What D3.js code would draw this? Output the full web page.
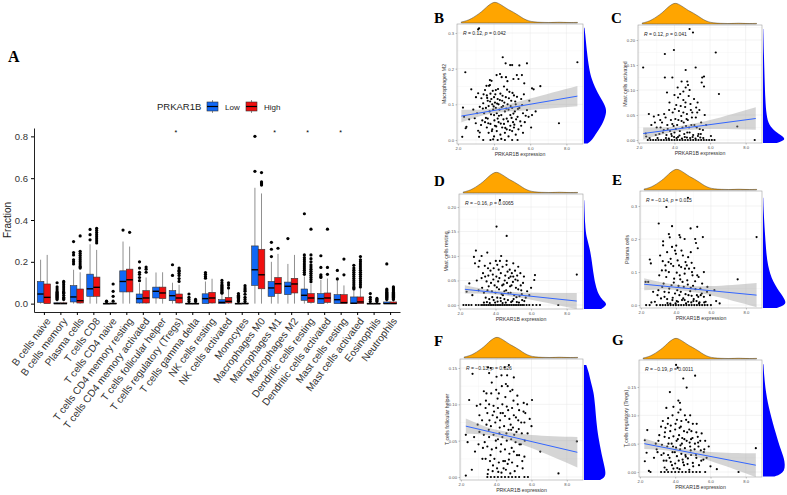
<!DOCTYPE html>
<html>
<head>
<meta charset="utf-8">
<script src="https://cdn.jsdelivr.net/npm/d3@7"></script>
<style>
body{margin:0;background:#fff;}
svg text{font-family:Arial,"Liberation Sans",sans-serif;}
.lab{font-family:"Times New Roman","Liberation Serif",serif;font-weight:bold;font-size:15px;}
</style>
</head>
<body>
<svg width="787" height="495"></svg>
<script>
// ---- panel A: immune cell fractions by PRKAR1B group ----
const cellTypes = ['B cells naive','B cells memory','Plasma cells','T cells CD8','T cells CD4 naive',
  'T cells CD4 memory resting','T cells CD4 memory activated','T cells follicular helper',
  'T cells regulatory (Tregs)','T cells gamma delta','NK cells resting','NK cells activated',
  'Monocytes','Macrophages M0','Macrophages M1','Macrophages M2','Dendritic cells resting',
  'Dendritic cells activated','Mast cells resting','Mast cells activated','Eosinophils','Neutrophils'];

const lowQ1  = [.006,0,.008,.035,0,.056,.003,.027,.014,0,0,0,0,.087,.035,.043,.016,0,0,0,0,0];
const lowMed = [.046,0,.032,.071,0,.106,.024,.059,.038,0,.024,.006,0,.162,.075,.083,.04,.024,.019,.002,0,0];
const lowQ3  = [.106,.004,.086,.141,.002,.157,.046,.079,.062,.002,.047,.019,.002,.276,.106,.103,.07,.048,.043,.032,.002,.008];
const lowHi  = [.21,.01,.162,.284,.005,.297,.098,.149,.1,.005,.106,.045,.005,.554,.2,.19,.13,.114,.114,.065,.005,.015];
const lowOut = [[],[.02,.025,.03,.035,.04,.045,.05,.055,.06,.07,.08,.1],[.19,.2,.21,.233,.244,.297],[.305,.33,.355],
  [.01,.012],[.352],[.11,.125,.14,.15,.17,.2],[],[.135,.186],[.01,.02,.03,.046],[.122,.13,.14,.149],
  [.05,.055,.06,.065,.07,.075,.08,.085,.09,.1,.111],[.01,.015,.019,.025,.03,.035,.04,.048],[.633,.8],
  [.225,.26,.293],[.311],[.14,.15,.16,.17,.18,.19,.2,.21,.22,.233,.43],[.125,.13,.138,.173,.229],
  [.118,.159],[.07,.075,.08,.09,.1,.11,.12,.13,.14,.15,.16,.17,.183],[.01,.02,.03,.048],
  [.02,.025,.03,.035,.04,.045,.05,.055,.06,.065,.07,.19]];

const highQ1  = [0,0,.003,.035,0,.056,.003,.024,.003,0,.003,.003,0,.071,.048,.051,.006,.006,0,0,0,0];
const highMed = [.03,0,.014,.078,0,.114,.027,.051,.027,0,.027,.011,0,.138,.095,.094,.027,.027,.005,.008,0,0];
const highQ3  = [.094,.004,.07,.127,.003,.165,.062,.079,.046,.002,.054,.03,.003,.26,.125,.121,.048,.051,.043,.032,.002,.008];
const highHi  = [.233,.01,.15,.257,.006,.273,.125,.15,.09,.005,.119,.07,.006,.527,.238,.233,.095,.12,.087,.075,.005,.015];
const highOut = [[],[.02,.025,.03,.04,.05,.055,.06,.07,.08,.09,.1,.106],[.17,.175,.18,.19,.2,.21,.22,.23,.24,.25,.324],
  [.29,.3,.31,.32,.33,.34,.35,.36],[.012,.035,.059,.094],[.341],[.15,.165,.175],[],
  [.106,.12,.135,.145,.155,.16,.17],[.01,.015,.02],[],[.075,.089,.1],[.01,.02,.03,.045,.059,.067,.075,.086],
  [.567,.572,.577,.582,.627],[.265],[],[.105,.115,.125,.135,.145,.155,.165,.175,.185,.2,.215,.233,.356],
  [.14,.173,.356],[.138,.213],[.08,.09,.1,.11,.12,.13,.14,.15,.16,.17,.18,.19,.2,.21,.225],[.01,.015,.02,.025],
  [.02,.025,.03,.035,.04,.045,.05,.055,.06,.065,.07,.075,.08]];

const starred = ['T cells regulatory (Tregs)','Macrophages M1','Dendritic cells resting','Mast cells resting'];
const groups = ['Low','High'];
const fractionTicks = [0,.2,.4,.6,.8];

// ---- panels B-G: scatter of cell fraction vs PRKAR1B expression ----
const exprTicks = [2,4,6,8];
const exprDensX = [2.19,2.47,2.74,3.02,3.3,3.58,3.86,4.05,4.23,4.51,4.79,5.07,5.35,5.63,5.91,6.19,6.6,7.0,7.4,7.6,7.8,8.2,8.61];
const exprDensY = [.05,.1,.2,.36,.52,.76,.95,1,.95,.8,.63,.52,.37,.2,.1,.05,.03,.02,.03,.04,.03,.02,.03];

const ptsB = [[3.12,.31],[3.17,.313],[2.41,.19],[4.48,.232],[4.64,.215],[4.89,.21],[5.0,.21],[5.4,.209],[5.82,.215],[8.61,.218],
 [2.74,.142],[3.77,.168],[3.77,.154],[3.86,.166],[4.33,.185],[4.42,.176],[4.14,.182],[4.66,.176],[4.74,.165],[5.07,.171],
 [5.26,.182],[5.35,.171],[5.54,.182],[5.67,.159],[6.1,.145],[6.19,.142],[6.56,.151],[2.28,.091],[2.34,.065],[2.47,.037],
 [2.43,.033],[2.24,.009],[3.12,.131],[3.3,.117],[3.4,.103],[3.21,.093],[3.06,.075],[2.93,.061],[2.99,.047],[3.12,.026],
 [3.21,.021],[3.17,.009],[7.59,.047],[5.82,.084],[5.91,.065],[6.1,.07],
 [3.5,.14],[3.6,.125],[3.65,.11],[3.7,.095],[3.75,.08],[3.8,.13],[3.85,.115],[3.9,.1],[3.95,.085],[4.0,.07],[4.0,.12],
 [4.05,.105],[4.1,.09],[4.1,.14],[4.15,.075],[4.2,.06],[4.2,.115],[4.25,.1],[4.3,.085],[4.35,.13],[4.4,.07],[4.45,.11],
 [4.5,.095],[4.55,.15],[4.6,.08],[4.65,.12],[4.7,.06],[4.75,.1],[4.8,.085],[4.85,.135],[4.9,.07],[4.95,.11],[5.0,.09],
 [5.05,.05],[5.1,.125],[5.15,.08],[5.2,.1],[5.3,.065],[5.4,.09],[5.5,.115],[5.6,.075],[5.7,.05],
 [3.5,.05],[3.6,.035],[3.7,.02],[3.8,.045],[3.9,.03],[4.0,.01],[4.05,.04],[4.15,.025],[4.25,.05],[4.35,.015],[4.45,.035],
 [4.55,.045],[4.6,.02],[4.7,.03],[4.8,.01],[4.9,.04],[5.0,.025],[5.1,.035],[5.2,.015],[5.35,.03],[5.5,.04],[5.6,.02],
 [3.65,.06],[3.35,.055],[3.45,.075],[3.55,.09],[3.4,0],[3.8,0],[4.2,0],[4.6,0],[5.0,0],[5.3,0],[4.4,.003],[3.95,.002],
 [3.55,.062],[3.62,.118],[3.68,.047],[3.72,.152],[3.78,.108],[3.83,.072],[3.88,.025],[3.93,.138],[3.98,.094],[4.02,.055],
 [4.07,.128],[4.12,.038],[4.17,.102],[4.22,.143],[4.27,.068],[4.32,.112],[4.37,.046],[4.42,.092],[4.47,.124],[4.52,.058],
 [4.57,.105],[4.62,.034],[4.67,.088],[4.72,.141],[4.77,.052],[4.82,.117],[4.87,.028],[4.92,.095],[4.97,.062],[5.02,.132],
 [5.07,.074],[5.12,.043],[5.17,.108],[5.22,.058],[5.27,.121],[5.32,.087],[5.45,.052],[5.55,.098],[5.65,.128],[5.75,.068],
 [3.38,.088],[3.28,.042],[3.42,.128],[3.58,.152],[2.85,.085],[2.62,.058],[3.0,.12],[5.95,.11],[6.3,.08],[6.05,.035]];

const ptsC = [[4.85,.222],[5.04,.215],[3.46,.172],[3.97,.18],[6.32,.175],[2.24,.145],[4.63,.14],[5.19,.145],[3.46,.125],[3.88,.125],
 [4.4,.117],[4.72,.117],[4.76,.11],[5.56,.125],[5.66,.127],[4.5,.097],[4.63,.105],[5.53,.115],[5.66,.107],[6.5,.092],
 [4.0,.09],[4.2,.085],[4.5,.08],[4.8,.088],[5.1,.082],[5.3,.075],[4.1,.07],[4.35,.068],[4.6,.066],[4.9,.072],[3.7,.06],
 [3.9,.055],[4.25,.058],[4.7,.052],[5.0,.055],[5.4,.06],[5.7,.05],[3.5,.045],[3.8,.04],[4.05,.042],[4.4,.038],[4.75,.04],
 [5.2,.045],[5.5,.035],[3.3,.035],[3.6,.03],[3.95,.028],[4.15,.03],[4.45,.025],[4.65,.028],[4.95,.03],[5.25,.025],[5.6,.02],
 [3.4,.02],[3.75,.018],[4.0,.015],[4.3,.018],[4.55,.012],[4.85,.015],[5.05,.01],[5.35,.012],[3.55,.01],[3.85,.008],[4.2,.006],
 [4.7,.005],[5.45,.005],[2.56,.052],[2.84,.047],[3.1,.05],[3.2,.04],[2.9,.035],[3.0,.025],[2.7,.03],[2.38,.013],[2.41,.007],
 [3.15,.012],[7.53,.027],[8.51,0],
 [2.5,0],[2.65,0],[2.8,0],[2.95,0],[3.1,0],[3.25,0],[3.4,0],[3.55,0],[3.7,0],[3.85,0],[4.0,0],[4.15,0],[4.3,0],[4.45,0],
 [4.6,0],[4.75,0],[4.9,0],[5.05,0],[5.2,0],[5.35,0],[5.5,0],[5.65,0],[5.8,0],[5.95,0],[6.1,0],[6.25,0],
 [3.52,.004],[3.68,.003],[3.82,.012],[3.98,.006],[4.12,.004],[4.28,.009],[4.42,.003],[4.58,.006],[4.72,.015],[4.88,.004],
 [5.02,.006],[5.18,.003],[5.32,.008],[5.48,.012],[5.62,.004],[3.62,.022],[3.88,.032],[4.08,.022],[4.22,.04],[4.38,.048],
 [4.52,.035],[4.68,.042],[4.82,.025],[4.98,.045],[5.12,.03],[5.28,.055],[5.42,.022],[3.42,.052],[3.72,.075],[4.02,.062],
 [4.32,.092],[4.62,.075],[4.92,.06],[5.22,.065],[3.58,.095],[4.18,.105],[4.85,.1],[3.35,.015],[2.95,.01],[3.05,.004],
 [6.05,.008],[5.78,.03],[3.22,.025],[2.6,.004],[4.5,.055]];

const ptsD = [[4.25,.214],[4.06,.16],[4.63,.141],[2.9,.111],[3.54,.107],[2.79,.098],[3.22,.1],[3.1,.09],[2.85,.085],[3.05,.078],
 [4.25,.09],[4.63,.09],[5.0,.085],[5.28,.078],[6.22,.061],[6.18,.051],[8.57,.062],[2.53,.044],[2.38,.027],[7.53,0],
 [3.4,.08],[3.7,.085],[3.9,.075],[4.1,.082],[4.4,.078],[4.8,.072],[5.1,.07],[5.4,.065],[3.3,.065],[3.6,.06],[3.85,.062],
 [4.05,.058],[4.3,.065],[4.55,.06],[4.75,.055],[5.0,.058],[5.25,.05],[5.55,.045],[3.5,.048],[3.75,.045],[3.95,.04],[4.15,.048],
 [4.45,.042],[4.65,.045],[4.9,.04],[5.15,.035],[5.45,.03],[3.25,.035],[3.55,.03],[3.8,.028],[4.0,.025],[4.2,.032],[4.35,.022],
 [4.6,.03],[4.85,.025],[5.05,.02],[5.35,.018],[5.7,.015],[3.45,.015],[3.65,.012],[3.9,.01],[4.1,.015],[4.3,.008],[4.5,.012],
 [4.7,.01],[4.95,.008],[5.2,.006],[5.5,.01],[3.35,.005],[4.4,.004],[5.9,.02],[6.0,.035],
 [2.2,0],[2.35,0],[2.5,0],[2.65,0],[2.9,0],[3.05,0],[3.2,0],[3.3,0],[3.4,0],[3.5,0],[3.6,0],[3.7,0],[3.8,0],[3.9,0],[4.0,0],
 [4.1,0],[4.2,0],[4.3,0],[4.4,0],[4.5,0],[4.6,0],[4.7,0],[4.8,0],[4.9,0],[5.0,0],[5.1,0],[5.2,0],[5.3,0],[5.4,0],[5.5,0],
 [5.6,0],[5.75,0],[5.9,0],[6.1,0],[6.3,0],[6.5,0],
 [3.52,.006],[3.68,.004],[3.82,.016],[3.98,.005],[4.12,.007],[4.28,.014],[4.42,.02],[4.58,.005],[4.72,.024],[4.88,.006],
 [5.02,.012],[5.18,.016],[5.32,.005],[5.48,.022],[5.62,.008],[3.62,.038],[3.88,.052],[4.08,.036],[4.22,.055],[4.38,.04],
 [4.52,.05],[4.68,.068],[4.82,.038],[4.98,.047],[5.12,.052],[5.28,.032],[5.42,.04],[3.42,.058],[3.72,.07],[4.02,.09],
 [4.32,.1],[4.62,.082],[4.92,.065],[5.22,.06],[3.58,.075],[4.18,.072],[4.85,.058],[3.35,.025],[2.95,.05],[3.05,.03],
 [5.78,.028],[5.6,.058],[3.22,.055],[2.7,.02],[4.5,.028]];

const ptsE = [[4.69,.325],[3.46,.297],[3.02,.247],[3.78,.239],[4.84,.232],[5.22,.237],[8.61,.206],[5.54,.206],[3.6,.215],[3.65,.205],
 [4.2,.212],[4.25,.205],[4.5,.2],[5.1,.2],[5.15,.188],[5.25,.172],[3.27,.193],[3.27,.181],[3.78,.176],[3.95,.165],[3.1,.15],
 [3.25,.133],[2.51,.138],[2.57,.126],[2.27,.07],[2.42,.07],[7.53,.078],[6.2,.045],
 [3.5,.16],[4.0,.155],[4.4,.15],[4.7,.145],[3.7,.14],[4.1,.135],[4.55,.13],[4.9,.128],[3.4,.12],[3.85,.118],[4.3,.115],
 [4.75,.11],[5.05,.112],[3.2,.105],[3.6,.1],[4.05,.098],[4.5,.095],[4.95,.09],[5.3,.085],[3.45,.085],[3.9,.08],[4.25,.078],
 [4.65,.075],[5.1,.072],[5.5,.065],[3.3,.065],[3.75,.06],[4.15,.058],[4.45,.055],[4.85,.052],[5.4,.05],[5.8,.055],
 [3.0,.045],[3.35,.04],[3.6,.038],[3.95,.035],[4.2,.03],[4.55,.033],[4.9,.028],[5.2,.03],[5.6,.025],[5.95,.03],[3.15,.02],
 [3.5,.018],[3.8,.015],[4.05,.012],[4.35,.015],[4.7,.01],[5.0,.012],[5.35,.008],[5.7,.01],[6.3,.012],[6.5,.005],[2.6,.008],
 [2.8,.01],[2.3,0],[2.5,0],[2.9,0],[3.1,0],[3.25,0],[3.4,0],[3.55,0],[3.7,0],[3.85,0],[4.0,0],[4.15,0],[4.3,0],[4.45,0],
 [4.6,0],[4.75,0],[4.9,0],[5.05,0],[5.2,0],[5.35,0],[5.5,0],[5.65,0],[5.8,0],[6.0,0],
 [3.52,.006],[3.68,.004],[3.82,.022],[3.98,.005],[4.12,.01],[4.28,.04],[4.42,.02],[4.58,.005],[4.72,.03],[4.88,.008],
 [5.02,.018],[5.18,.012],[5.32,.005],[5.48,.035],[5.62,.008],[3.62,.05],[3.88,.068],[4.08,.045],[4.22,.09],[4.38,.07],
 [4.52,.11],[4.68,.062],[4.82,.042],[4.98,.058],[5.12,.048],[5.28,.025],[5.42,.03],[3.42,.105],[3.72,.125],[4.02,.18],
 [4.32,.165],[4.62,.12],[4.92,.1],[5.22,.09],[3.58,.13],[4.18,.12],[4.85,.16],[3.35,.025],[2.95,.03],[3.05,.09],
 [5.78,.04],[5.6,.1],[3.22,.055],[2.7,.04],[4.5,.015]];

const ptsF = [[3.54,.151],[3.69,.15],[4.72,.154],[4.48,.151],[2.66,.142],[5.0,.137],[3.6,.143],[4.3,.14],[3.75,.13],[4.55,.128],
 [4.65,.125],[3.3,.118],[3.45,.115],[4.0,.12],[4.15,.115],[4.8,.118],[5.2,.112],[2.47,.106],[5.56,.102],[5.75,.1],[6.03,.106],
 [2.9,.098],[3.1,.1],[3.4,.095],[3.6,.1],[3.85,.098],[4.1,.095],[4.35,.1],[4.6,.097],[4.9,.095],[5.3,.092],[5.55,.09],
 [3.5,.088],[3.8,.085],[4.05,.082],[4.25,.088],[4.5,.084],[4.75,.08],[5.0,.085],[5.25,.078],[5.6,.075],[5.9,.08],[6.0,.07],
 [3.2,.078],[3.45,.072],[3.7,.07],[3.95,.075],[4.2,.068],[4.45,.07],[4.7,.065],[4.95,.068],[5.15,.062],[5.45,.06],[3.05,.062],
 [3.3,.058],[3.6,.055],[3.85,.058],[4.1,.052],[4.35,.055],[4.6,.05],[4.85,.052],[5.1,.048],[5.4,.045],[2.75,.055],[2.28,.058],
 [2.38,.048],[8.57,.049],[6.5,.035],[3.0,.045],[3.25,.04],[3.5,.042],[3.75,.038],[4.0,.04],[4.25,.035],[4.5,.038],[4.75,.032],
 [5.0,.035],[5.3,.03],[5.6,.028],[3.4,.025],[3.65,.022],[3.9,.025],[4.15,.02],[4.4,.022],[4.65,.018],[4.9,.02],[5.2,.015],
 [5.5,.012],[3.55,.01],[3.8,.008],[4.05,.012],[4.3,.006],[4.55,.01],[4.8,.005],[5.05,.008],[2.62,.01],[2.28,.002],[7.53,.005],
 [3.5,0],[3.7,0],[3.9,0],[4.1,0],[4.3,0],[4.5,0],[4.7,0],[4.9,0],[5.1,0],[5.3,0],[5.6,0],[5.8,0],
 [3.52,.004],[3.68,.03],[3.82,.016],[3.98,.05],[4.12,.007],[4.28,.045],[4.42,.012],[4.58,.06],[4.72,.024],[4.88,.04],
 [5.02,.058],[5.18,.03],[5.32,.045],[5.48,.022],[5.62,.05],[3.62,.078],[3.88,.09],[4.08,.108],[4.22,.078],[4.38,.088],
 [4.52,.11],[4.68,.092],[4.82,.072],[4.98,.105],[5.12,.082],[5.28,.066],[5.42,.075],[3.42,.105],[3.72,.115],[4.02,.138],
 [4.32,.125],[4.62,.14],[4.92,.12],[5.22,.1],[3.58,.065],[4.18,.06],[4.85,.065],[3.35,.048],[2.95,.072],[3.05,.085],
 [5.78,.06],[5.65,.088],[3.22,.025],[2.8,.035],[4.5,.022]];

const ptsG = [[4.05,.189],[4.14,.184],[5.13,.17],[4.46,.165],[4.65,.149],[3.7,.141],[4.18,.126],[4.27,.122],[3.5,.113],[3.9,.115],
 [4.3,.11],[4.55,.1],[2.42,.074],[2.28,.056],[2.38,.034],[2.28,.019],[2.51,.002],[8.57,.042],[7.59,0],[6.36,.005],[2.6,0],
 [3.3,.09],[3.6,.095],[3.85,.1],[4.1,.092],[4.35,.09],[4.75,.088],[5.0,.085],[3.2,.08],[3.45,.078],[3.75,.082],[4.0,.075],
 [4.25,.078],[4.5,.072],[4.8,.075],[5.2,.07],[5.5,.068],[3.1,.065],[3.4,.062],[3.65,.06],[3.9,.063],[4.15,.058],[4.4,.06],
 [4.65,.055],[4.9,.058],[5.3,.052],[5.7,.055],[2.9,.05],[3.25,.048],[3.55,.045],[3.8,.05],[4.05,.043],[4.3,.047],[4.55,.042],
 [4.85,.045],[5.1,.04],[5.45,.038],[5.9,.045],[3.0,.035],[3.35,.033],[3.6,.03],[3.85,.035],[4.1,.028],[4.35,.032],[4.6,.027],
 [4.9,.03],[5.2,.025],[5.6,.022],[3.5,.02],[3.75,.018],[4.0,.015],[4.2,.02],[4.45,.017],[4.7,.014],[5.0,.016],[5.35,.012],
 [6.0,.01],[3.4,.008],[3.9,.006],[4.25,.005],[4.8,.004],
 [3.2,0],[3.4,0],[3.6,0],[3.8,0],[4.0,0],[4.2,0],[4.4,0],[4.6,0],[4.8,0],[5.0,0],[5.2,0],[5.4,0],[5.7,0],
 [3.52,.004],[3.68,.025],[3.82,.012],[3.98,.035],[4.12,.007],[4.28,.04],[4.42,.022],[4.58,.03],[4.72,.024],[4.88,.038],
 [5.02,.01],[5.18,.03],[5.32,.045],[5.48,.02],[5.62,.035],[3.62,.05],[3.88,.045],[4.08,.055],[4.22,.065],[4.38,.05],
 [4.52,.058],[4.68,.07],[4.82,.052],[4.98,.06],[5.12,.05],[5.28,.062],[5.42,.055],[3.42,.07],[3.72,.072],[4.02,.085],
 [4.32,.08],[4.62,.092],[4.92,.072],[5.22,.085],[3.58,.085],[4.18,.105],[4.85,.1],[3.35,.02],[2.95,.04],[3.05,.055],
 [5.78,.025],[5.65,.04],[3.22,.03],[2.8,.025],[4.5,.012]];

// fitted line end points and the confidence band
const bandX = {B:[2.19,3.3,4.3,6,8.61],C:[2.24,3.3,4.3,6,8.57],D:[2.28,3.3,4.3,6,8.57],E:[2.19,3.3,4.3,6,8.61],F:[2.28,3.3,4.3,6,8.6],G:[2.25,3.3,4.3,6,8.57]};
const bandLo = {B:[.0495,.0677,.0774,.0842,.0945],C:[.001,.011,.0178,.0218,.0205],D:[.0235,.0231,.0203,.0108,-.0085],
  E:[.045,.0473,.0442,.0294,-.007],F:[.0595,.0582,.0535,.0398,.013],G:[.0405,.0387,.0337,.0195,-.009]};
const bandHi = {B:[.0845,.0857,.0934,.1162,.1515],C:[.025,.025,.0278,.0398,.0655],D:[.0405,.0331,.0283,.0248,.0245],
  E:[.081,.0673,.0602,.0574,.067],F:[.0805,.0702,.0635,.0578,.055],G:[.0595,.0487,.0417,.0355,.033]};
const fitLine = {B:[[2.19,.067],[8.61,.123]],C:[[2.24,.013],[8.57,.043]],D:[[2.28,.032],[8.57,.008]],
  E:[[2.19,.063],[8.61,.03]],F:[[2.28,.07],[8.6,.034]],G:[[2.25,.05],[8.57,.012]]};

// marginal density of each cell fraction (value, relative width)
const fracDens = {
  B:[[-.01,.15],[0,.35],[.02,.55],[.05,.85],[.08,1],[.1,.9],[.13,.6],[.17,.33],[.2,.22],[.25,.12],[.3,.05],[.315,.02]],
  C:[[-.006,.6],[0,1],[.008,.85],[.016,.55],[.03,.25],[.05,.15],[.08,.1],[.12,.07],[.17,.04],[.222,.01]],
  D:[[-.008,.75],[0,1],[.006,.92],[.015,.72],[.027,.58],[.045,.48],[.061,.42],[.09,.34],[.116,.25],[.14,.1],[.16,.05],[.214,.01]],
  E:[[-.009,.6],[0,.95],[.01,1],[.03,.83],[.07,.42],[.12,.2],[.17,.13],[.22,.08],[.28,.03],[.325,.01]],
  F:[[-.004,.7],[0,.92],[.007,.95],[.026,.8],[.05,.65],[.071,.55],[.1,.48],[.117,.42],[.13,.3],[.145,.2],[.154,.1]],
  G:[[-.008,.5],[0,1],[.025,.92],[.042,.75],[.065,.58],[.106,.29],[.141,.12],[.17,.05],[.19,.02]]};

const yTitles = {B:'Macrophages M2',C:'Mast cells activated',D:'Mast cells resting',E:'Plasma cells',
  F:'T cells follicular helper',G:'T cells regulatory (Tregs)'};
const rValues = {B:'0.12',C:'0.12',D:'\u22120.16',E:'\u22120.14',F:'\u22120.13',G:'\u22120.19'};
const pValues = {B:'0.042',C:'0.041',D:'0.0065',E:'0.015',F:'0.026',G:'0.0011'};
const yTickVals = {B:[0,.1,.2,.3],C:[0,.05,.1,.15,.2],D:[0,.05,.1,.15,.2],E:[0,.1,.2,.3],F:[0,.05,.1,.15],G:[0,.05,.1,.15]};
const points = {B:ptsB,C:ptsC,D:ptsD,E:ptsE,F:ptsF,G:ptsG};

function whenLoaded(){
  const svg = d3.select('svg');
  svg.append('rect').attr('width',787).attr('height',495).attr('fill','#fff');

  // ================= panel A =================
  const colors = {Low:'#1168F5',High:'#F01010'};
  const xA = d3.scalePoint().domain(cellTypes).range([34,400]).padding(0.6);
  const yA = d3.scaleLinear().domain([-0.04,0.84]).range([312,128]);
  const step = xA.step();
  const bw = step*0.4;

  svg.append('text').attr('class','lab').attr('x',8).attr('y',62).style('font-size','16px').text('A');

  const gA = svg.append('g');
  const yAxis = gA.append('g').attr('transform','translate(34,0)')
    .call(d3.axisLeft(yA).tickValues(fractionTicks).tickFormat(d3.format('.1f')).tickSize(3).tickSizeOuter(0));
  yAxis.selectAll('text').attr('font-size',9.5).attr('fill','#333');
  yAxis.select('.domain').attr('stroke','#222');

  const xAxis = gA.append('g').attr('transform','translate(0,312)')
    .call(d3.axisBottom(xA).tickSize(3).tickSizeOuter(0));
  xAxis.select('.domain').attr('stroke','#222');
  xAxis.selectAll('text')
    .attr('font-size',10.2).attr('fill','#333')
    .attr('text-anchor','end')
    .attr('y',0).attr('dy','0.35em')
    .attr('transform','translate(4,7) rotate(-53)');

  gA.append('text').attr('transform','translate(11,220) rotate(-90)')
    .attr('text-anchor','middle').attr('font-size',10).attr('fill','#222').text('Fraction');

  const stats = cellTypes.map((c,i)=>({c,
    Low:{q1:lowQ1[i],med:lowMed[i],q3:lowQ3[i],hi:lowHi[i],out:lowOut[i]},
    High:{q1:highQ1[i],med:highMed[i],q3:highQ3[i],hi:highHi[i],out:highOut[i]}}));

  stats.forEach(s=>{
    groups.forEach((gname,gi)=>{
      const b = s[gname];
      const cx = xA(s.c) + (gi===0 ? -bw/2 : bw/2);
      const bg = gA.append('g');
      bg.append('line').attr('x1',cx).attr('x2',cx).attr('y1',yA(b.q3)).attr('y2',yA(b.hi))
        .attr('stroke','#444').attr('stroke-width',0.6);
      bg.append('line').attr('x1',cx).attr('x2',cx).attr('y1',yA(b.q1)).attr('y2',yA(0))
        .attr('stroke','#444').attr('stroke-width',0.6);
      bg.append('rect').attr('x',cx-bw/2).attr('width',bw)
        .attr('y',yA(b.q3)).attr('height',Math.max(0.8,yA(b.q1)-yA(b.q3)))
        .attr('fill',colors[gname]).attr('stroke','#333').attr('stroke-width',0.6);
      bg.append('line').attr('x1',cx-bw/2).attr('x2',cx+bw/2).attr('y1',yA(b.med)).attr('y2',yA(b.med))
        .attr('stroke','#000').attr('stroke-width',1.4);
      bg.selectAll('circle').data(b.out).enter().append('circle')
        .attr('cx',cx).attr('cy',d=>yA(d)).attr('r',1.6).attr('fill','#000');
    });
  });

  gA.selectAll('.star').data(starred).enter().append('text')
    .attr('x',d=>xA(d)).attr('y',135).attr('text-anchor','middle')
    .attr('font-size',7).text('*');

  // legend
  const lg = svg.append('g');
  lg.append('text').attr('x',157).attr('y',109.5).attr('font-size',9.5).attr('fill','#222').text('PRKAR1B');
  const keyX = {Low:207,High:246};
  groups.forEach(gname=>{
    const kx = keyX[gname];
    lg.append('line').attr('x1',kx+5.5).attr('x2',kx+5.5).attr('y1',100).attr('y2',113).attr('stroke','#444').attr('stroke-width',0.6);
    lg.append('rect').attr('x',kx).attr('y',102).attr('width',11).attr('height',9)
      .attr('fill',colors[gname]).attr('stroke','#333').attr('stroke-width',0.6);
    lg.append('line').attr('x1',kx).attr('x2',kx+11).attr('y1',106.5).attr('y2',106.5).attr('stroke','#000').attr('stroke-width',1.2);
    lg.append('text').attr('x',kx+18).attr('y',109.5).attr('font-size',8).attr('fill','#222').text(gname);
  });

  // ================= panels B-G =================
  const layout = [
    {id:'B',left:457,top:24,w:126,h:120,lx:434,ly:23},
    {id:'C',left:638,top:25,w:124,h:118,lx:611,ly:23},
    {id:'D',left:459,top:194,w:124,h:115,lx:434,ly:186},
    {id:'E',left:640,top:191,w:122,h:117,lx:612,ly:185},
    {id:'F',left:460,top:359,w:123,h:121,lx:434,ly:346},
    {id:'G',left:639,top:360,w:123,h:117,lx:612,ly:345}
  ];
  const yDomains = {B:[-0.0112,0.3252],C:[-0.006,0.23],D:[-0.0082,0.2265],E:[-0.009,0.3455],F:[-0.0041,0.1624],G:[-0.0088,0.1976]};

  layout.forEach(p=>{
    const id = p.id;
    const x = d3.scaleLinear().domain([1.95,8.92]).range([p.left,p.left+p.w]);
    const y = d3.scaleLinear().domain(yDomains[id]).range([p.top+p.h,p.top]);
    const g = svg.append('g');
    const clipId = 'clip'+id;
    svg.append('clipPath').attr('id',clipId).append('rect')
      .attr('x',p.left).attr('y',p.top).attr('width',p.w).attr('height',p.h);

    // top marginal density
    const topArea = d3.area().curve(d3.curveBasis)
      .x((d,i)=>x(exprDensX[i])).y0(p.top-1).y1(d=>p.top-1-d*21);
    g.append('path').datum(exprDensY).attr('d',topArea)
      .attr('fill','#FFA500').attr('stroke','#444').attr('stroke-width',0.5);

    // right marginal density
    const rightArea = d3.area().curve(d3.curveBasis)
      .y(d=>y(d[0])).x0(p.left+p.w+1).x1(d=>p.left+p.w+1+d[1]*23);
    g.append('path').datum(fracDens[id]).attr('d',rightArea).attr('fill','#0000FF');

    // panel background and grid
    g.append('rect').attr('x',p.left).attr('y',p.top).attr('width',p.w).attr('height',p.h).attr('fill','#fff');
    const yt = yTickVals[id];
    const ystep = yt[1]-yt[0];
    const minorY = yt.map(v=>v+ystep/2).filter(v=>y(v)>p.top);
    g.selectAll('.gmy').data(minorY).enter().append('line')
      .attr('x1',p.left).attr('x2',p.left+p.w).attr('y1',d=>y(d)).attr('y2',d=>y(d))
      .attr('stroke','#f2f2f2').attr('stroke-width',0.4);
    g.selectAll('.gmx').data([3,5,7]).enter().append('line')
      .attr('y1',p.top).attr('y2',p.top+p.h).attr('x1',d=>x(d)).attr('x2',d=>x(d))
      .attr('stroke','#f2f2f2').attr('stroke-width',0.4);
    g.selectAll('.gy').data(yt).enter().append('line')
      .attr('x1',p.left).attr('x2',p.left+p.w).attr('y1',d=>y(d)).attr('y2',d=>y(d))
      .attr('stroke','#e6e6e6').attr('stroke-width',0.5);
    g.selectAll('.gx').data(exprTicks).enter().append('line')
      .attr('y1',p.top).attr('y2',p.top+p.h).attr('x1',d=>x(d)).attr('x2',d=>x(d))
      .attr('stroke','#e6e6e6').attr('stroke-width',0.5);

    // points, band, fitted line
    const inner = g.append('g').attr('clip-path',`url(#${clipId})`);
    inner.selectAll('circle').data(points[id]).enter().append('circle')
      .attr('cx',d=>x(d[0])).attr('cy',d=>y(d[1])).attr('r',1.1).attr('fill','#000');
    const band = d3.area().curve(d3.curveNatural)
      .x((d,i)=>x(bandX[id][i])).y0((d,i)=>y(bandLo[id][i])).y1((d,i)=>y(bandHi[id][i]));
    inner.append('path').datum(bandX[id]).attr('d',band).attr('fill','#9a9a9a').attr('fill-opacity',0.42);
    inner.append('path').datum(fitLine[id]).attr('d',d3.line().x(d=>x(d[0])).y(d=>y(d[1])))
      .attr('stroke','#3366FF').attr('stroke-width',1).attr('fill','none');

    g.append('rect').attr('x',p.left).attr('y',p.top).attr('width',p.w).attr('height',p.h)
      .attr('fill','none').attr('stroke','#a0a0a0').attr('stroke-width',0.6);

    // axes
    const fmt = (id==='B'||id==='E') ? d3.format('.1f') : d3.format('.2f');
    const ya = g.append('g').attr('transform',`translate(${p.left},0)`)
      .call(d3.axisLeft(y).tickValues(yt).tickFormat(fmt).tickSize(1.5).tickPadding(1.5));
    ya.select('.domain').remove();
    ya.selectAll('line').attr('stroke','#666').attr('stroke-width',0.4);
    ya.selectAll('text').attr('font-size',4.2).attr('fill','#555');
    const xa = g.append('g').attr('transform',`translate(0,${p.top+p.h})`)
      .call(d3.axisBottom(x).tickValues(exprTicks).tickSize(1.5).tickPadding(1.5));
    xa.select('.domain').remove();
    xa.selectAll('line').attr('stroke','#666').attr('stroke-width',0.4);
    xa.selectAll('text').attr('font-size',4.2).attr('fill','#555');

    g.append('text').attr('x',p.left+p.w/2).attr('y',p.top+p.h+12).attr('text-anchor','middle')
      .attr('font-size',5.2).attr('fill','#333').text('PRKAR1B expression');
    g.append('text').attr('transform',`translate(${p.left-11},${p.top+p.h/2}) rotate(-90)`)
      .attr('text-anchor','middle').attr('font-size',5.2).attr('fill','#333').text(yTitles[id]);

    const st = g.append('text').attr('x',p.left+6).attr('y',p.top+10.5).attr('font-size',5).attr('fill','#222');
    st.append('tspan').attr('font-style','italic').text('R');
    st.append('tspan').text(` = ${rValues[id]}, `);
    st.append('tspan').attr('font-style','italic').text('p');
    st.append('tspan').text(` = ${pValues[id]}`);

    svg.append('text').attr('class','lab').attr('x',p.lx).attr('y',p.ly).text(id);
  });
}

window.onload = whenLoaded;
</script>
</body>
</html>
